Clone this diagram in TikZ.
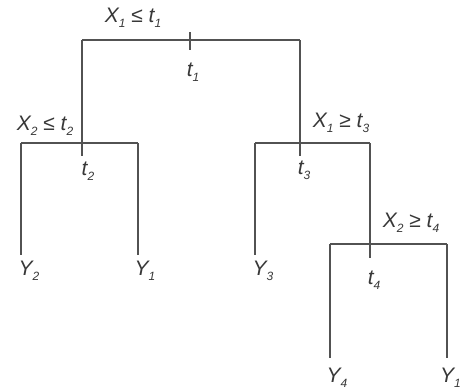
\documentclass[tikz,border=0pt]{standalone}
\usepackage{fontspec}
\setmainfont{Liberation Sans}
\newcommand{\sbx}[1]{\raisebox{-0.45ex}{\fontsize{12}{12}\selectfont #1}}
\begin{document}
\begin{tikzpicture}[x=1pt,y=-1pt,
  ln/.style={draw=black!68,line width=2pt},
  lab/.style={text=black!78,font=\fontsize{21}{21}\selectfont\itshape,inner sep=0pt},
  pt/.style={inner sep=0pt,minimum size=0pt}]
\useasboundingbox (0,0) rectangle (462,391);
% split points
\coordinate (rl) at (82,40);
\coordinate (rr) at (300,40);
\coordinate (al) at (21,143);
\coordinate (ar) at (138,143);
\coordinate (bl) at (255,143);
\coordinate (br) at (370,143);
\coordinate (cl) at (330,244);
\coordinate (cr) at (447,244);
\coordinate (rt1) at (190,32);
\coordinate (rt2) at (190,50);
\coordinate (ae) at (82,156);
\coordinate (be) at (300,156);
\coordinate (ce) at (370,258);
% leaves
\node[pt] (y2) at (21,255) {};
\node[pt] (y1) at (138,255) {};
\node[pt] (y3) at (255,255) {};
\node[pt] (y4) at (330,358) {};
\node[pt] (y5) at (447,358) {};
% lines
\draw[ln] (rl) -- (rr);
\draw[ln] (rt1) -- (rt2);
\draw[ln] (rl) -- (ae);
\draw[ln] (rr) -- (be);
\draw[ln] (al) -- (ar);
\draw[ln] (bl) -- (br);
\draw[ln] (br) -- (ce);
\draw[ln] (cl) -- (cr);
\draw[ln] (al) -- (y2.center);
\draw[ln] (ar) -- (y1.center);
\draw[ln] (bl) -- (y3.center);
\draw[ln] (cl) -- (y4.center);
\draw[ln] (cr) -- (y5.center);
% labels
\node[lab] (l1) at (133,18) {X\sbx{1} ≤ t\sbx{1}};
\node[lab] (t1) at (193,72) {t\sbx{1}};
\node[lab] (l2) at (45,126) {X\sbx{2} ≤ t\sbx{2}};
\node[lab] (t2) at (88,171) {t\sbx{2}};
\node[lab] (l3) at (341,123) {X\sbx{1} ≥ t\sbx{3}};
\node[lab] (t3) at (304,170) {t\sbx{3}};
\node[lab] (l4) at (411,223) {X\sbx{2} ≥ t\sbx{4}};
\node[lab] (t4) at (374,280) {t\sbx{4}};
\node[lab] (Y2) at (29,271) {Y\sbx{2}};
\node[lab] (Y1) at (145,271) {Y\sbx{1}};
\node[lab] (Y3) at (263,271) {Y\sbx{3}};
\node[lab] (Y4) at (337,378) {Y\sbx{4}};
\node[lab,anchor=east] (Y5) at (461,378) {Y\sbx{1}};
\end{tikzpicture}
\end{document}
